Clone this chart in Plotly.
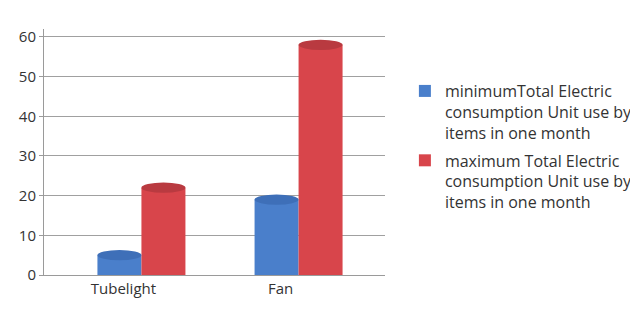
import plotly.graph_objects as go

categories = ["Tubelight", "Fan"]
min_values = [5, 19]
max_values = [22, 58]
series_names = [
    "minimumTotal Electric<br>consumption Unit use by<br>items in one month",
    "maximum Total Electric<br>consumption Unit use by<br>items in one month",
]
y_ticks = [0, 10, 20, 30, 40, 50, 60]

blue = "#4a7fcb"
blue_top = "#3e6fb8"
red = "#d8454b"
red_top = "#b93a40"

bar_w = 0.28
xpos = list(range(len(categories)))

fig = go.Figure()
fig.add_trace(go.Bar(x=xpos, y=min_values, name=series_names[0], width=bar_w,
                     offset=-bar_w, legendgroup="min",
                     marker=dict(color=blue, line=dict(width=0))))
fig.add_trace(go.Bar(x=xpos, y=max_values, name=series_names[1], width=bar_w,
                     offset=0, legendgroup="max",
                     marker=dict(color=red, line=dict(width=0))))

h = 1.3
shapes = []
for i, (vmin, vmax) in enumerate(zip(min_values, max_values)):
    for off, v, col, topc in [(-bar_w, vmin, blue, blue_top), (0, vmax, red, red_top)]:
        x0 = xpos[i] + off
        x1 = x0 + bar_w
        shapes.append(dict(type="circle", xref="x", yref="y", x0=x0, x1=x1,
                           y0=v - h, y1=v + h, fillcolor=topc, line=dict(width=0), layer="above"))

fig.update_layout(
    width=630, height=304,
    margin=dict(l=36, r=253, t=21, b=37, autoexpand=False),
    paper_bgcolor="white", plot_bgcolor="white",
    font=dict(family="Open Sans", size=15, color="#333333"),
    showlegend=True,
    legend=dict(xref="container", x=0.630, y=0.817, xanchor="left", yanchor="top",
                valign="top", font=dict(size=16, color="#333333"), tracegroupgap=4,
                itemwidth=30),
    shapes=shapes,
)
fig.update_xaxes(range=[-0.62, 1.55], tickvals=xpos, ticktext=categories,
                 showgrid=False, showline=True, linecolor="#9a9a9a", linewidth=1,
                 ticks="", zeroline=False, ticklabelshift=-18)
fig.update_yaxes(range=[0, 62], tickvals=y_ticks, showgrid=True, gridcolor="#a0a0a0",
                 showline=True, linecolor="#9a9a9a", ticks="outside", ticklen=4,
                 tickcolor="#9a9a9a", zeroline=False)

fig.write_html("out.html")
